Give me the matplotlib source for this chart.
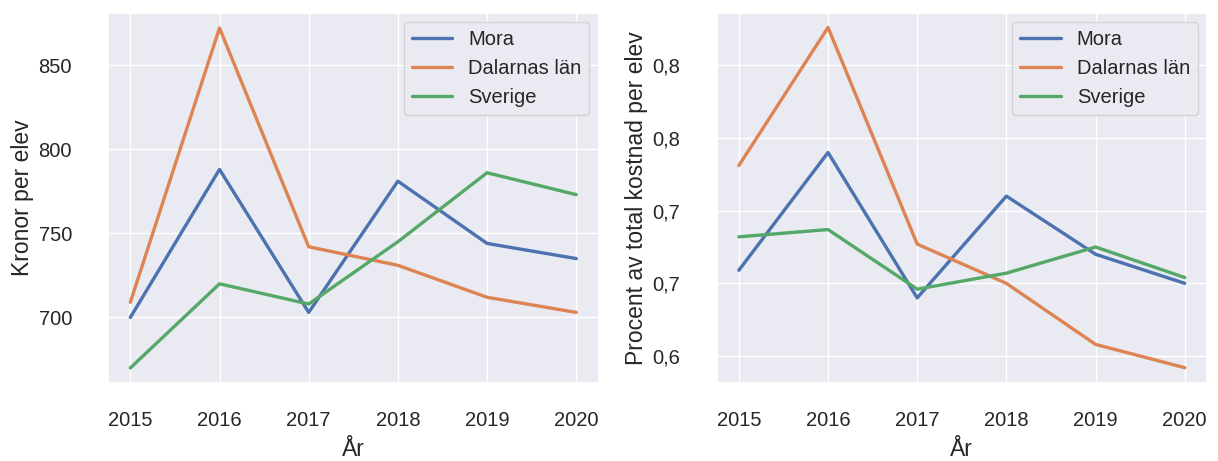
import matplotlib
matplotlib.use("Agg")
import matplotlib.pyplot as plt
import seaborn as sns
from matplotlib.ticker import FuncFormatter, MultipleLocator

years = [2015, 2016, 2017, 2018, 2019, 2020]
series_names = ["Mora", "Dalarnas län", "Sverige"]

# kronor per elev
kronor_mora = [700, 788, 703, 781, 744, 735]
kronor_dalarna = [709, 872, 742, 731, 712, 703]
kronor_sverige = [670, 720, 708, 745, 786, 773]

# procent av total kostnad per elev
pct_mora = [0.659, 0.740, 0.640, 0.710, 0.670, 0.650]
pct_dalarna = [0.731, 0.826, 0.677, 0.650, 0.608, 0.592]
pct_sverige = [0.682, 0.687, 0.646, 0.657, 0.675, 0.654]

sns.set_theme(style="darkgrid")
plt.rcParams["font.family"] = ["Liberation Sans", "DejaVu Sans"]

fig, (ax1, ax2) = plt.subplots(1, 2, figsize=(12.18, 4.61), dpi=100)
fig.subplots_adjust(left=0.0887, right=0.991, top=0.972, bottom=0.169, wspace=0.2406)

for vals, name in zip([kronor_mora, kronor_dalarna, kronor_sverige], series_names):
    ax1.plot(years, vals, label=name, lw=2.4)
ax1.set_ylim(661, 881)
ax1.yaxis.set_major_locator(MultipleLocator(50))
ax1.set_ylabel("Kronor per elev", fontsize=16.5, labelpad=3)

for vals, name in zip([pct_mora, pct_dalarna, pct_sverige], series_names):
    ax2.plot(years, vals, label=name, lw=2.4)
ax2.set_ylim(0.5814, 0.836)
ax2.yaxis.set_major_locator(MultipleLocator(0.05))
ax2.yaxis.set_major_formatter(FuncFormatter(lambda v, p: f"{v + 1e-9:.1f}".replace(".", ",")))
ax2.set_ylabel("Procent av total kostnad per elev", fontsize=16.5, labelpad=3)

for ax in (ax1, ax2):
    ax.set_xticks(years)
    ax.set_xlabel("År", fontsize=16.5, labelpad=6)
    ax.tick_params(axis="x", labelsize=14.5, pad=14)
    ax.tick_params(axis="y", labelsize=14.5, pad=20)
    ax.legend(loc="upper right", fontsize=14.5, borderaxespad=0.45)

fig.savefig("out.png", dpi=100)
